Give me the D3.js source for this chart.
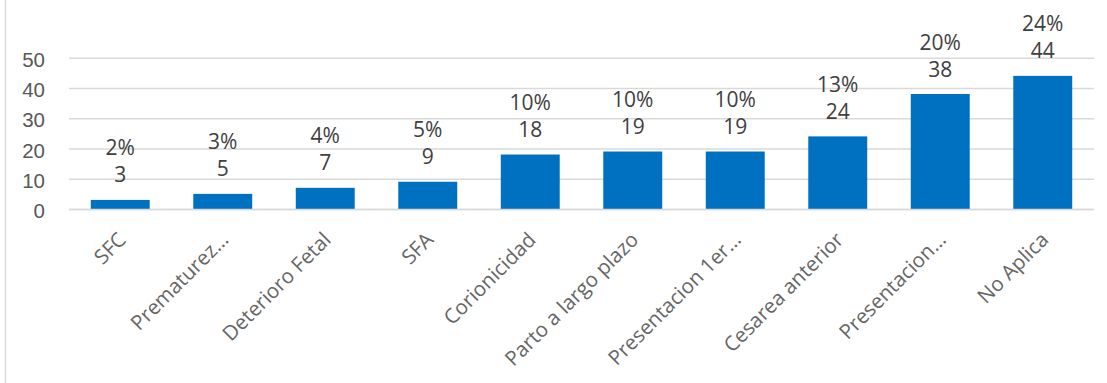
<!DOCTYPE html>
<html>
<head>
<meta charset="utf-8">
<script src="https://cdn.jsdelivr.net/npm/d3@7"></script>
<style>
  html, body { margin: 0; padding: 0; background: #fff; }
  svg { display: block; font-family: "Open Sans", "Noto Sans", sans-serif; }
</style>
</head>
<body>
<svg id="chart" width="1107" height="383"></svg>
<script>
// Causes and their counts
const categories = ["SFC", "Prematurez…", "Deterioro Fetal", "SFA", "Corionicidad",
  "Parto a largo plazo", "Presentacion 1er…", "Cesarea anterior", "Presentacion…", "No Aplica"];
const counts = [3, 5, 7, 9, 18, 19, 19, 24, 38, 44];
const percentLabels = ["2%", "3%", "4%", "5%", "10%", "10%", "10%", "13%", "20%", "24%"];
const yTicks = [0, 10, 20, 30, 40, 50];

const svg = d3.select("#chart");
const W = 1107, H = 383;
const plot = { left: 69, right: 1094, top: 57.7, bottom: 209 };

// Outer chart frame (left edge visible)
svg.append("line")
  .attr("x1", 5.5).attr("x2", 5.5).attr("y1", 0).attr("y2", H)
  .attr("stroke", "#d9d9d9").attr("stroke-width", 1.5);

const x = d3.scaleBand()
  .domain(categories)
  .range([plot.left, plot.right])
  .paddingInner(0.425)
  .paddingOuter(0.2125);

const y = d3.scaleLinear().domain([0, 50]).range([plot.bottom, plot.top]);

// Horizontal gridlines and value axis labels
const yAxis = d3.axisLeft(y)
  .tickValues(yTicks)
  .tickSize(-(plot.right - plot.left))
  .tickPadding(24)
  .tickFormat(d3.format("d"));

const gy = svg.append("g")
  .attr("transform", `translate(${plot.left},0)`)
  .call(yAxis);
gy.select(".domain").remove();
gy.selectAll(".tick line").attr("stroke", "#d9d9d9").attr("stroke-width", 1.5);
gy.selectAll(".tick text")
  .attr("fill", "#595959")
  .attr("font-size", 20.5)
  .attr("dy", "0.42em");

// Bars
svg.append("g").selectAll("rect")
  .data(categories)
  .join("rect")
  .attr("x", d => x(d))
  .attr("width", x.bandwidth())
  .attr("y", (d, i) => y(counts[i]))
  .attr("height", (d, i) => y(0) - y(counts[i]))
  .attr("fill", "#0070C0");

// Category axis line
svg.append("line")
  .attr("x1", plot.left).attr("x2", plot.right)
  .attr("y1", y(0) + 0.5).attr("y2", y(0) + 0.5)
  .attr("stroke", "#d9d9d9").attr("stroke-width", 1.5);

// Data labels: count and share above each bar
const labels = svg.append("g").attr("fill", "#404040").attr("font-size", 21)
  .attr("text-anchor", "middle");
labels.selectAll("text.count")
  .data(categories)
  .join("text")
  .attr("class", "count")
  .attr("x", d => x(d) + x.bandwidth() / 2)
  .attr("y", (d, i) => y(counts[i]) - 25)
  .attr("dy", "0.36em")
  .text((d, i) => counts[i]);
labels.selectAll("text.pct")
  .data(categories)
  .join("text")
  .attr("class", "pct")
  .attr("x", d => x(d) + x.bandwidth() / 2)
  .attr("y", (d, i) => y(counts[i]) - 52)
  .attr("dy", "0.36em")
  .text((d, i) => percentLabels[i]);

// Rotated category labels
svg.append("g").selectAll("text")
  .data(categories)
  .join("text")
  .attr("text-anchor", "end")
  .attr("fill", "#666666")
  .attr("font-size", 20.5)
  .attr("transform", d => `translate(${x(d) + x.bandwidth() / 2 + 7},${241}) rotate(-45)`)
  .text(d => d);
</script>
</body>
</html>
